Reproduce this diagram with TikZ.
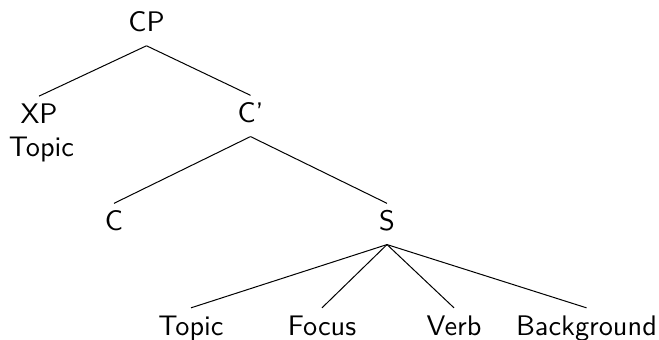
\documentclass[tikz,border=0pt]{standalone}
\usepackage{tikz}

\begin{document}
\begin{tikzpicture}[
        x=1pt, y=-1pt,
        word/.style={anchor=base,inner sep=0pt,scale=2.83,text height=9.4pt,text depth=4.77pt,font=\sffamily},
        gloss/.style={anchor=base,inner sep=0pt,scale=2.83,font=\sffamily},
        branch/.style={line width=1pt},
        ]
        \useasboundingbox (0,0) rectangle (659,340);

        % Level 1: root
        \node[word] (cp) at (146.5,31.7) {CP};

        % Level 2
        \node[word] (xp) at (39,123.3) {XP};
        \node[gloss] (xptopic) at (41.5,156.7) {Topic};
        \node[word] (cbar) at (250.5,122.5) {C'};

        % Level 3
        \node[word] (c) at (114,230.5) {C};
        \node[word] (s) at (387,230.5) {S};

        % Level 4: positions in S
        \node[word] (topic) at (191,335) {Topic};
        \node[word] (focus) at (322,335) {Focus};
        \node[word] (verb) at (454,335) {Verb};
        \node[word] (bg) at (586.5,335) {Background};

        % Branches level 1-2
        \draw[branch] (cp.south) -- (xp.north);
        \draw[branch] (cp.south) -- (cbar.north);

        % Branches level 2-3
        \draw[branch] (cbar.south) -- (c.north);
        \draw[branch] (cbar.south) -- (s.north);

        % Branches level 3-4
        \draw[branch] (s.south) -- (topic.north);
        \draw[branch] (s.south) -- (focus.north);
        \draw[branch] (s.south) -- (verb.north);
        \draw[branch] (s.south) -- (bg.north);
    \end{tikzpicture}
\end{document}
